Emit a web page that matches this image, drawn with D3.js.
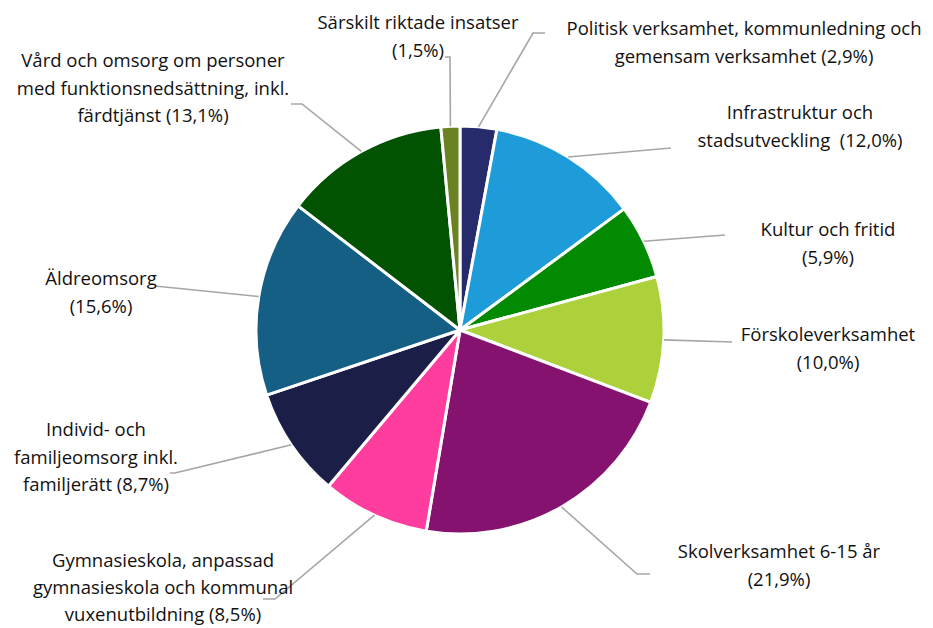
<!DOCTYPE html>
<html>
<head>
<meta charset="utf-8">
<script src="https://cdn.jsdelivr.net/npm/d3@7"></script>
<style>
html,body{margin:0;padding:0;background:#fff;}
svg{display:block;}
text{font-family:"Open Sans","Noto Sans",sans-serif;font-size:18.5px;fill:#111;white-space:pre;}
</style>
</head>
<body>
<svg id="chart" width="933" height="628"></svg>
<script>
// ---- data ----
const categories = [
  "Politisk verksamhet, kommunledning och gemensam verksamhet",
  "Infrastruktur och stadsutveckling",
  "Kultur och fritid",
  "Förskoleverksamhet",
  "Skolverksamhet 6-15 år",
  "Gymnasieskola, anpassad gymnasieskola och kommunal vuxenutbildning",
  "Individ- och familjeomsorg inkl. familjerätt",
  "Äldreomsorg",
  "Vård och omsorg om personer med funktionsnedsättning, inkl. färdtjänst",
  "Särskilt riktade insatser"
];
const values = [2.9, 12.0, 5.9, 10.0, 21.9, 8.5, 8.7, 15.6, 13.1, 1.5];
const labelLines = [
  ["Politisk verksamhet, kommunledning och", "gemensam verksamhet (2,9%)"],
  ["Infrastruktur och", "stadsutveckling  (12,0%)"],
  ["Kultur och fritid", "(5,9%)"],
  ["Förskoleverksamhet", "(10,0%)"],
  ["Skolverksamhet 6-15 år", "(21,9%)"],
  ["Gymnasieskola, anpassad", "gymnasieskola och kommunal", "vuxenutbildning (8,5%)"],
  ["Individ- och", "familjeomsorg inkl.", "familjerätt (8,7%)"],
  ["Äldreomsorg", "(15,6%)"],
  ["Vård och omsorg om personer", "med funktionsnedsättning, inkl.", "färdtjänst (13,1%)"],
  ["Särskilt riktade insatser", "(1,5%)"]
];
const colors = ["#262c6b","#1e9cd9","#028a02","#add13b","#861270","#ff3d9e","#1b1e47","#155f85","#015201","#6b8223"];

// ---- layout (positions only) ----
const cx = 460, cy = 330, R = 204;
const labelLayout = [
  {x: 744, y: 35, pts: [[533, 33], [545, 33]]},
  {x: 800, y: 119, pts: [[671, 148]]},
  {x: 828, y: 236, pts: [[725, 235]]},
  {x: 828, y: 341, pts: [[732, 342]]},
  {x: 779, y: 558, pts: [[637, 574], [650, 574]]},
  {x: 163, y: 567, lh: 27, pts: [[275, 599], [263, 599]]},
  {x: 96,  y: 436, pts: [[175, 473], [170, 473]]},
  {x: 101, y: 285, pts: [[155, 286]]},
  {x: 153, y: 67,  pts: [[302, 104], [291, 104]]},
  {x: 418, y: 29,  pts: [[450, 57], [445, 57]]}
];
const lineH = 27.5;

const svg = d3.select("#chart");
const pie = d3.pie().sort(null).value(d => d).startAngle(0).endAngle(2 * Math.PI);
const arcs = pie(values);
const arc = d3.arc().innerRadius(0).outerRadius(R);
const color = d3.scaleOrdinal().domain(categories).range(colors);

const g = svg.append("g").attr("transform", `translate(${cx},${cy})`);
g.selectAll("path.slice").data(arcs).join("path")
  .attr("class", "slice")
  .attr("d", arc)
  .attr("fill", (d, i) => color(categories[i]))
  .attr("stroke", "#fff")
  .attr("stroke-width", 3)
  .attr("stroke-linejoin", "round");

const line = d3.line();
svg.selectAll("path.leader").data(arcs).join("path")
  .attr("class", "leader")
  .attr("d", (d, i) => {
    const a = (d.startAngle + d.endAngle) / 2;
    const start = [cx + R * Math.sin(a), cy - R * Math.cos(a)];
    return line([start, ...labelLayout[i].pts]);
  })
  .attr("fill", "none")
  .attr("stroke", "#a6a6a6")
  .attr("stroke-width", 1.6);

const labels = svg.selectAll("text.lbl").data(arcs).join("text")
  .attr("class", "lbl")
  .attr("text-anchor", "middle");
labels.each(function(d, i) {
  const t = d3.select(this);
  const lh = labelLayout[i].lh || lineH;
  labelLines[i].forEach((s, k) => {
    t.append("tspan")
      .attr("x", labelLayout[i].x)
      .attr("y", labelLayout[i].y + k * lh)
      .text(s);
  });
});
</script>
</body>
</html>
